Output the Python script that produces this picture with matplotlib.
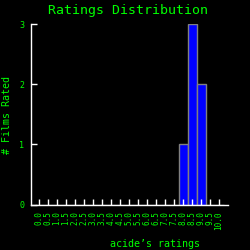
import numpy as np
import matplotlib
matplotlib.use("Agg")
import matplotlib.pyplot as plt

# rating bins 0.0 .. 10.0 in steps of 0.5
ratings = [i * 0.5 for i in range(21)]
tick_labels = ["%.1f" % r for r in ratings]
counts = [0, 0, 0, 0, 0, 0, 0, 0, 0, 0, 0, 0, 0, 0, 0, 0, 1, 3, 2, 0, 0]

green = "#00ff00"
font = "DejaVu Sans Mono"

fig = plt.figure(figsize=(2.5, 2.5), dpi=100, facecolor="black")
ax = fig.add_axes([0.124, 0.182, 0.788, 0.722], facecolor="black")

ax.bar(ratings, counts, width=0.5, color="#0000ff", edgecolor="#808080", linewidth=1.0)

ax.set_xlim(-0.45, 10.5)
ax.set_ylim(0, 3)
ax.set_xticks(ratings)
ax.set_xticklabels(tick_labels, rotation=90, fontsize=5.5, color=green, family=font)
ax.set_yticks([0, 1, 2, 3])
ax.set_yticklabels(["0", "1", "2", "3"], fontsize=6, color=green, family=font)
ax.tick_params(axis="both", direction="in", length=4, width=1, colors="white", pad=5)
for lbl in ax.get_xticklabels() + ax.get_yticklabels():
    lbl.set_color(green)

for s in ["top", "right"]:
    ax.spines[s].set_visible(False)
for s in ["left", "bottom"]:
    ax.spines[s].set_color("white")
    ax.spines[s].set_linewidth(1)

fig.text(0.514, 0.958, "Ratings Distribution", ha="center", va="center",
         color=green, fontsize=9.5, family=font)
fig.text(0.62, 0.024, "acide\u2019s ratings", ha="center", va="center",
         color=green, fontsize=7.2, family=font)
fig.text(0.03, 0.54, "# Films Rated", ha="center", va="center", rotation=90,
         color=green, fontsize=7.2, family=font)

fig.savefig("out.png", dpi=100, facecolor="black")
